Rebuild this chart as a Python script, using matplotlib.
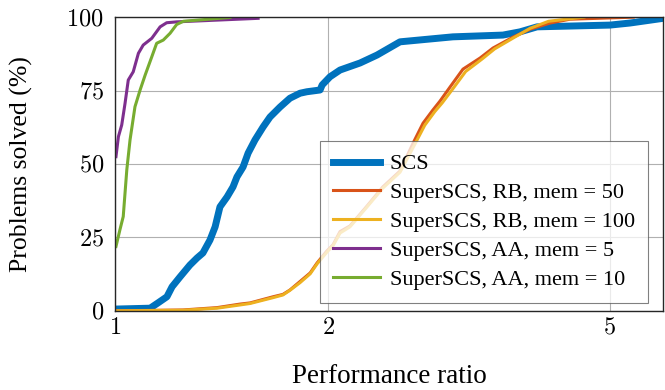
import matplotlib
matplotlib.use("Agg")
import matplotlib.pyplot as plt
from matplotlib.ticker import FixedLocator, FixedFormatter, NullLocator

plt.rcParams['font.family'] = ['Liberation Serif', 'DejaVu Serif']
plt.rcParams['mathtext.fontset'] = 'cm'

# ---- data ----
scs_x = [1.0, 1.121, 1.150, 1.184, 1.204, 1.236, 1.276, 1.306, 1.331, 1.362, 1.385,
         1.407, 1.440, 1.468, 1.487, 1.517, 1.542, 1.577, 1.619, 1.656, 1.711, 1.767,
         1.826, 1.867, 1.949, 1.962, 2.013, 2.080, 2.220, 2.346, 2.528, 3.003, 3.534,
         3.736, 3.949, 5.006, 5.343, 5.95]
scs_y = [0.6, 0.9, 2.7, 4.8, 8.2, 11.6, 15.6, 18.0, 19.7, 24.1, 28.6,
         35.4, 38.8, 42.2, 45.6, 49.0, 53.7, 58.2, 62.6, 66.0, 69.4, 72.4,
         74.1, 74.6, 75.2, 76.9, 79.7, 82.0, 84.4, 87.1, 91.6, 93.3, 93.9,
         95.0, 96.7, 97.3, 98.0, 99.6]

rb50_x = [1.0, 1.248, 1.394, 1.502, 1.552, 1.673, 1.727, 1.767, 1.826, 1.887, 1.930,
          1.993, 2.033, 2.080, 2.148, 2.271, 2.391, 2.528, 2.638, 2.725, 2.814, 2.879,
          2.975, 3.103, 3.281, 3.422, 3.652, 3.860, 4.120, 4.396, 5.40]
rb50_y = [0.0, 0.3, 1.1, 2.3, 2.7, 4.8, 5.6, 7.1, 10.0, 12.9, 16.3,
          20.4, 22.5, 27.0, 28.9, 35.7, 42.2, 47.6, 57.1, 63.9, 68.4, 71.4,
          76.2, 82.3, 86.1, 89.5, 93.2, 95.9, 98.0, 99.3, 100.0]

rb100_x = [1.0, 1.248, 1.394, 1.502, 1.552, 1.673, 1.727, 1.767, 1.826, 1.887, 1.930,
           1.993, 2.033, 2.080, 2.148, 2.271, 2.391, 2.528, 2.650, 2.740, 2.830, 2.900,
           3.000, 3.130, 3.300, 3.440, 3.660, 3.860, 4.100, 4.600]
rb100_y = [0.0, 0.2, 0.9, 2.0, 2.5, 4.5, 5.4, 7.0, 9.6, 12.6, 16.0,
           20.0, 22.2, 26.5, 28.6, 35.4, 41.8, 47.2, 56.5, 63.2, 67.8, 70.8,
           75.5, 81.5, 85.7, 89.2, 93.0, 96.2, 98.6, 100.0]

aa5_x = [1.003, 1.011, 1.022, 1.033, 1.044, 1.061, 1.079, 1.096, 1.127, 1.158, 1.183,
         1.222, 1.593]
aa5_y = [52.5, 59.3, 63.3, 70.6, 78.6, 81.4, 87.7, 90.5, 92.8, 96.7, 98.1,
         98.4, 99.6]

aa10_x = [1.003, 1.016, 1.027, 1.039, 1.050, 1.067, 1.085, 1.103, 1.127, 1.145, 1.170,
          1.196, 1.222, 1.249, 1.454]
aa10_y = [21.9, 27.6, 32.1, 48.0, 58.2, 69.5, 75.2, 80.3, 86.5, 91.1, 92.2,
          94.5, 97.5, 98.6, 99.9]

labels = ["SCS", "SuperSCS, RB, mem = 50", "SuperSCS, RB, mem = 100",
          "SuperSCS, AA, mem = 5", "SuperSCS, AA, mem = 10"]
colors = ["#0072BD", "#D95319", "#EDB120", "#7E2F8E", "#77AC30"]

x_ticks = [1, 2, 5]
x_ticklabels = ["$1$", "$2$", "$5$"]
y_ticks = [0, 25, 50, 75, 100]
y_ticklabels = ["$0$", "$25$", "$50$", "$75$", "$100$"]

fig = plt.figure(figsize=(6.65, 3.9), dpi=100)
ax = fig.add_axes([0.173, 0.203, 0.824, 0.753])

series = [(scs_x, scs_y), (rb50_x, rb50_y), (rb100_x, rb100_y),
          (aa5_x, aa5_y), (aa10_x, aa10_y)]
widths = [5.0, 2.2, 2.2, 2.2, 2.2]
for (xs, ys), lab, c, w in zip(series, labels, colors, widths):
    ax.plot(xs, ys, color=c, lw=w, label=lab, solid_joinstyle='round')

ax.set_xscale('log')
ax.set_xlim(1, 5.95)
ax.set_ylim(0, 100)
ax.xaxis.set_major_locator(FixedLocator(x_ticks))
ax.xaxis.set_major_formatter(FixedFormatter(x_ticklabels))
ax.xaxis.set_minor_locator(NullLocator())
ax.yaxis.set_major_locator(FixedLocator(y_ticks))
ax.yaxis.set_major_formatter(FixedFormatter(y_ticklabels))
ax.tick_params(axis='both', which='major', labelsize=17.5, direction='in',
               length=0)
ax.tick_params(axis='x', pad=5)
ax.tick_params(axis='y', pad=8)
ax.grid(True, color='#b0b0b0', lw=0.8)
ax.set_axisbelow(True)
for s in ax.spines.values():
    s.set_linewidth(1.0)
    s.set_color('#262626')

ax.set_xlabel("Performance ratio", fontsize=19.5, labelpad=18)
ax.set_ylabel("Problems solved (%)", fontsize=18.5, labelpad=24)

leg = ax.legend(loc='lower right', bbox_to_anchor=(0.973, 0.027), fontsize=16,
                fancybox=False, framealpha=0.75, edgecolor='#555555',
                handlelength=2.1, borderpad=0.6, labelspacing=0.37,
                handletextpad=0.45, borderaxespad=0.0)
leg.get_frame().set_linewidth(0.8)

fig.savefig("out.png", dpi=100)
